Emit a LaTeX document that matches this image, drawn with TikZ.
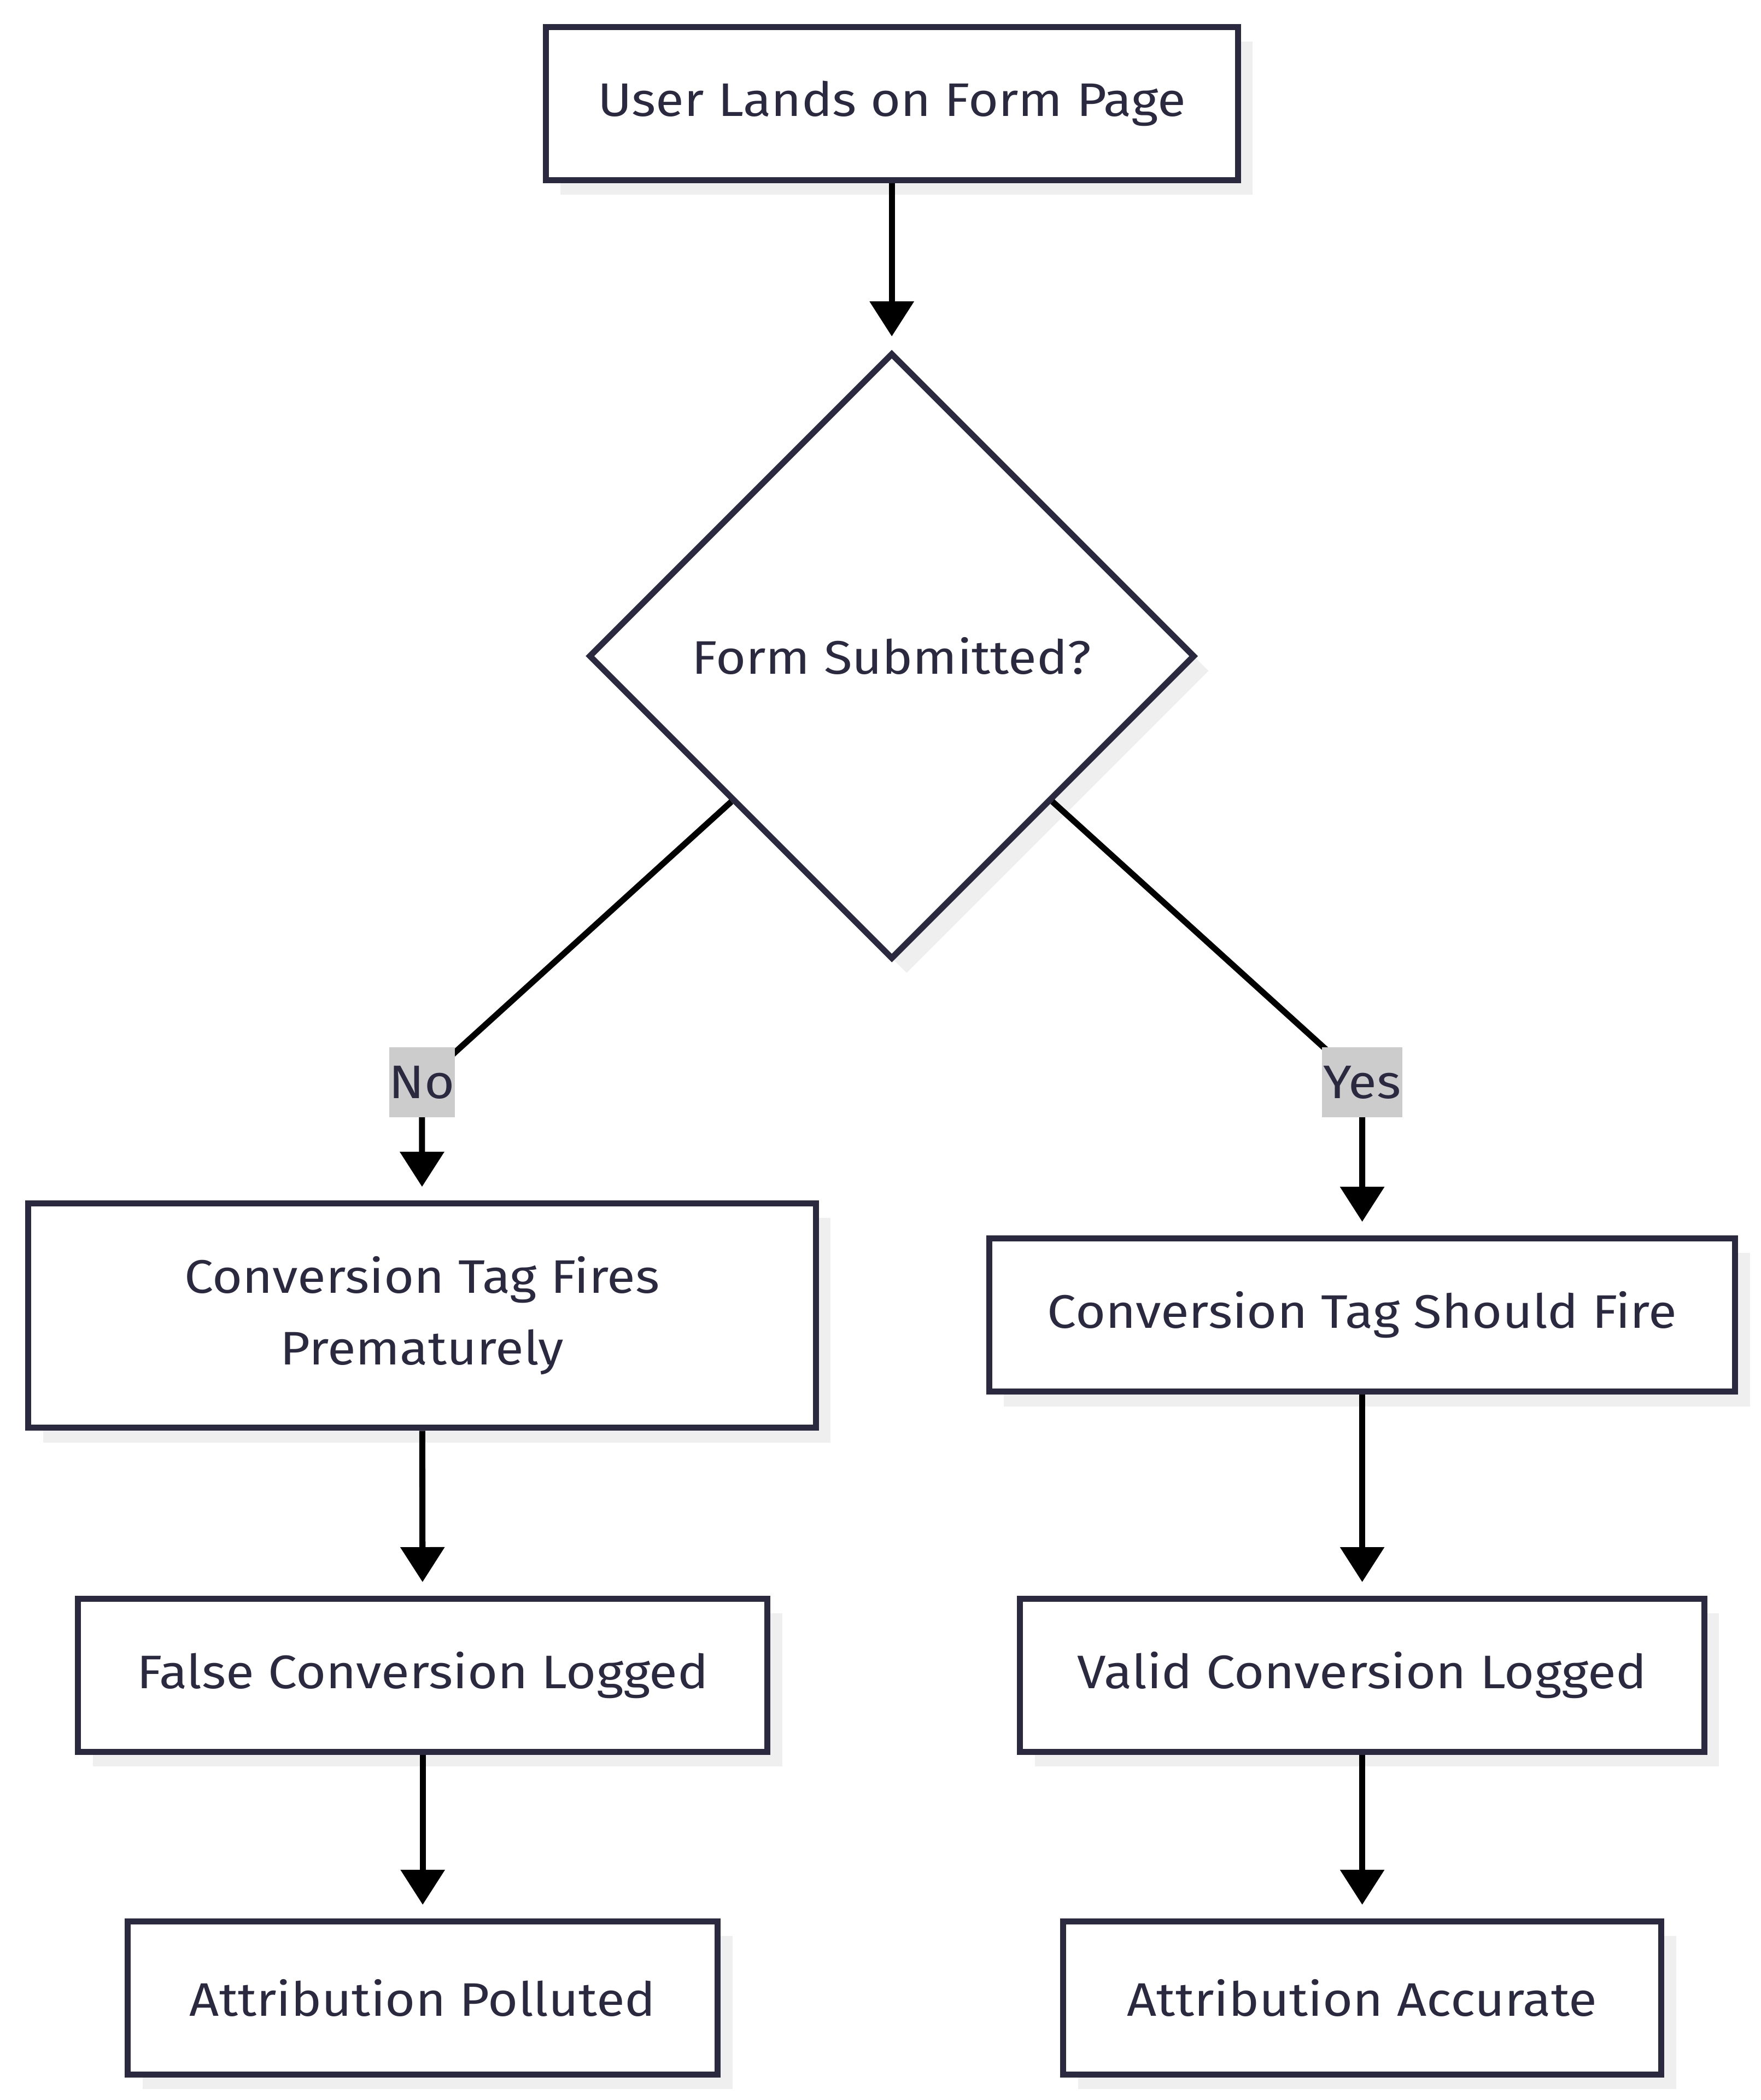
\documentclass[tikz,border=0pt]{standalone}
\usepackage{fontspec}
\setmainfont{Fira Sans}[FakeStretch=1.1]
\usetikzlibrary{arrows.meta,shapes.geometric,shadows}
\definecolor{ink}{HTML}{2A2940}
\definecolor{shade}{HTML}{EFEFEF}
\definecolor{tagfill}{HTML}{CCCCCC}

\begin{document}
\begin{tikzpicture}[x=1pt,y=-1pt,
  box/.style={draw=ink,line width=4.5pt,fill=white,text=ink,inner sep=0pt,
    minimum height=114pt,align=center,font=\fontsize{35}{53}\selectfont,
    drop shadow={shadow xshift=11pt,shadow yshift=-11pt,fill=shade,opacity=1}},
  choice/.style={box,diamond,aspect=1,minimum width=451pt,minimum height=451pt},
  tag/.style={fill=tagfill,text=ink,inner sep=0pt,minimum width=46pt,
    minimum height=52pt,font=\fontsize{35}{40}\selectfont},
  flow/.style={draw=black,line width=4.5pt,shorten >=10pt,
    -{Triangle[width=32pt,length=26pt]}}]
\useasboundingbox (0,0) rectangle (1310,1562);

\node[box,minimum width=515pt] (a) at (663.5,77) {User Lands on Form Page};
\node[choice] (b) at (663.5,488) {Form Submitted?};
\node[box,minimum width=586pt,minimum height=167pt] (c) at (314,978.5) {Conversion Tag Fires\\Prematurely};
\node[box,minimum width=555pt] (d) at (1013.5,978) {Conversion Tag Should Fire};
\node[box,minimum width=513pt] (e) at (314.5,1246) {False Conversion Logged};
\node[box,minimum width=509pt] (f) at (1013.5,1246) {Valid Conversion Logged};
\node[box,minimum width=439pt] (g) at (314.5,1486) {Attribution Polluted};
\node[box,minimum width=445pt] (h) at (1013.5,1486) {Attribution Accurate};

\coordinate (i) at (314,805);
\coordinate (j) at (1013.5,805);

\path
(a) edge[flow] (b)
(c) edge[flow] (e)
(e) edge[flow] (g)
(d) edge[flow] (f)
(f) edge[flow] (h);
\draw[flow] (b) -- (i) -- (c);
\draw[flow] (b) -- (j) -- (d);

\node[tag] (k) at (i) {No};
\node[tag,minimum width=60pt] (l) at (j) {Yes};
\end{tikzpicture}
\end{document}
